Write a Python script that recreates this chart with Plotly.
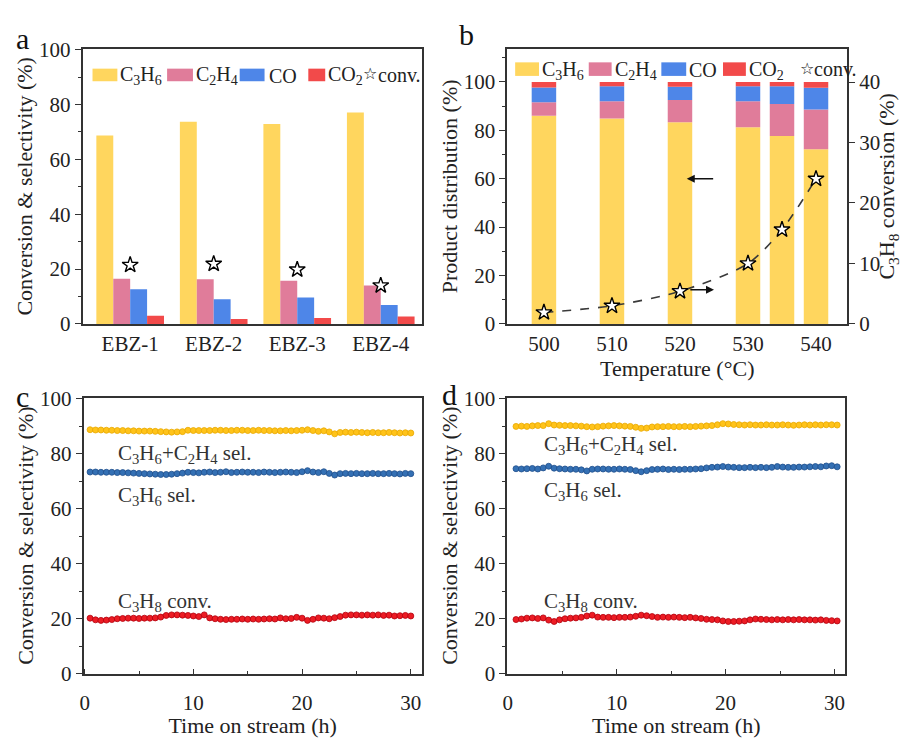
import plotly.graph_objects as go

# ---------------- data ----------------
catalysts = ["EBZ-1", "EBZ-2", "EBZ-3", "EBZ-4"]
a_c3h6 = [68.7, 73.7, 72.9, 77.1]
a_c2h4 = [16.5, 16.3, 15.7, 14.0]
a_co = [12.6, 9.0, 9.6, 6.9]
a_co2 = [3.0, 1.8, 2.2, 2.7]
a_conv = [21.5, 21.9, 19.8, 14.0]

temps = [500, 510, 520, 530, 535, 540]
b_c3h6 = [86.0, 84.9, 83.3, 81.3, 77.7, 72.2]
b_c2h4 = [5.6, 7.1, 9.2, 10.7, 13.2, 16.4]
b_co = [6.1, 6.2, 5.5, 6.2, 7.3, 9.0]
b_co2 = [2.3, 1.8, 2.0, 1.8, 1.8, 2.4]
b_conv = [1.9, 3.0, 5.4, 10.0, 15.6, 24.0]

c_time = [0.5, 1.0, 1.5, 2.0, 2.5, 3.0, 3.5, 4.0, 4.5, 5.0, 5.5, 6.0,
          6.5, 7.0, 7.5, 8.0, 8.5, 9.0, 9.5, 10.0, 10.5, 11.0, 11.5, 12.0,
          12.5, 13.0, 13.5, 14.0, 14.5, 15.0, 15.5, 16.0, 16.5, 17.0, 17.5, 18.0,
          18.5, 19.0, 19.5, 20.0, 20.5, 21.0, 21.5, 22.0, 22.5, 23.0, 23.5, 24.0,
          24.5, 25.0, 25.5, 26.0, 26.5, 27.0, 27.5, 28.0, 28.5, 29.0, 29.5, 30.0]
c_olefin_sel = [88.8, 88.7, 88.7, 88.6, 88.6, 88.5, 88.5, 88.4, 88.4, 88.3, 88.3, 88.3,
                88.2, 88.1, 88.0, 87.9, 88.0, 88.1, 88.6, 88.5, 88.5, 88.5, 88.5, 88.6,
                88.6, 88.5, 88.5, 88.6, 88.6, 88.5, 88.5, 88.6, 88.5, 88.5, 88.4, 88.4,
                88.5, 88.4, 88.5, 88.6, 88.8, 88.5, 88.2, 88.4, 88.0, 87.3, 87.8, 87.9,
                87.8, 87.9, 87.8, 87.7, 87.8, 87.7, 87.7, 87.8, 87.7, 87.6, 87.7, 87.6]
c_c3h6_sel = [73.4, 73.4, 73.3, 73.3, 73.3, 73.2, 73.2, 73.1, 73.0, 72.9, 72.8, 72.7,
              72.6, 72.5, 72.5, 72.6, 72.8, 73.0, 73.3, 73.2, 73.1, 73.3, 73.4, 73.2,
              73.3, 73.5, 73.2, 73.3, 73.4, 73.3, 73.3, 73.2, 73.4, 73.3, 73.2, 73.3,
              73.4, 73.3, 73.2, 73.5, 73.9, 73.4, 73.2, 73.5, 72.9, 72.3, 72.8, 72.9,
              72.8, 72.9, 72.8, 72.8, 72.9, 72.8, 72.8, 72.9, 72.8, 72.7, 72.9, 72.8]
c_c3h8_conv = [20.2, 19.6, 19.4, 19.5, 19.7, 20.0, 20.1, 20.2, 20.2, 20.1, 20.2, 20.2,
               20.3, 20.6, 21.2, 21.4, 21.4, 21.3, 21.2, 21.0, 20.8, 21.4, 20.3, 20.0,
               19.8, 19.7, 19.8, 19.8, 19.9, 19.8, 19.9, 19.8, 19.9, 20.0, 19.9, 20.3,
               20.0, 20.1, 20.5, 20.2, 19.4, 19.8, 20.3, 20.2, 20.0, 20.4, 20.8, 21.3,
               21.4, 21.4, 21.3, 21.4, 21.3, 21.4, 21.2, 21.3, 21.0, 21.1, 21.2, 21.0]

d_time = [0.75, 1.25, 1.75, 2.25, 2.75, 3.25, 3.75, 4.25, 4.75, 5.25, 5.75, 6.25,
          6.75, 7.25, 7.75, 8.25, 8.75, 9.25, 9.75, 10.25, 10.75, 11.25, 11.75, 12.25,
          12.75, 13.25, 13.75, 14.25, 14.75, 15.25, 15.75, 16.25, 16.75, 17.25, 17.75, 18.25,
          18.75, 19.25, 19.75, 20.25, 20.75, 21.25, 21.75, 22.25, 22.75, 23.25, 23.75, 24.25,
          24.75, 25.25, 25.75, 26.25, 26.75, 27.25, 27.75, 28.25, 28.75, 29.25, 29.75, 30.25]
d_olefin_sel = [90.0, 90.1, 90.0, 90.2, 90.3, 90.3, 91.0, 90.5, 90.4, 90.3, 90.3, 90.2,
                90.1, 89.9, 89.8, 89.9, 90.1, 90.2, 90.3, 90.2, 90.1, 90.0, 89.7, 89.3,
                89.4, 89.8, 89.9, 89.9, 90.0, 89.9, 89.9, 90.0, 89.9, 90.0, 90.1, 90.2,
                90.3, 90.6, 91.0, 90.9, 90.7, 90.6, 90.5, 90.6, 90.5, 90.5, 90.6, 90.5,
                90.5, 90.6, 90.5, 90.4, 90.5, 90.6, 90.5, 90.6, 90.5, 90.6, 90.6, 90.5]
d_c3h6_sel = [74.6, 74.5, 74.6, 74.7, 74.5, 74.9, 75.5, 74.8, 74.6, 74.5, 74.4, 74.4,
              74.2, 73.8, 74.4, 74.5, 74.5, 74.4, 74.4, 74.5, 74.4, 74.3, 73.9, 73.5,
              73.9, 74.3, 74.4, 74.5, 74.3, 74.4, 74.3, 74.4, 74.4, 74.5, 74.6, 74.9,
              75.1, 75.2, 75.4, 75.2, 75.1, 75.0, 75.0, 75.1, 75.0, 75.1, 75.0, 75.1,
              75.4, 75.2, 75.1, 75.1, 75.2, 75.2, 75.3, 75.4, 75.3, 75.6, 75.7, 75.3]
d_c3h8_conv = [19.7, 19.9, 20.2, 20.3, 20.1, 20.3, 19.5, 19.0, 19.6, 20.0, 20.2, 20.3,
               20.5, 21.0, 21.3, 20.6, 20.5, 20.5, 20.4, 20.5, 20.5, 20.6, 20.9, 21.3,
               21.1, 20.8, 20.5, 20.6, 20.5, 20.6, 20.5, 20.4, 20.5, 20.3, 20.1, 19.8,
               19.7, 19.6, 19.2, 19.0, 19.0, 19.1, 19.2, 19.6, 19.9, 19.8, 19.7, 19.6,
               19.7, 19.6, 19.7, 19.6, 19.7, 19.6, 19.6, 19.5, 19.6, 19.4, 19.3, 19.2]

product_names = ["C<sub>3</sub>H<sub>6</sub>", "C<sub>2</sub>H<sub>4</sub>", "CO", "CO<sub>2</sub>"]

# ---------------- styles ----------------
FONT = "'Liberation Serif', 'Times New Roman', Times, serif"
W, H = 902, 738
BAR_COLORS = ["#FFD65E", "#E07C9A", "#4E86E8", "#F24A4A"]
TXT = "#222222"


def px(x, y):
    return x / W, 1 - y / H


fig = go.Figure()

# ---- panel a : grouped bars ----
for name, vals, col in zip(product_names, [a_c3h6, a_c2h4, a_co, a_co2], BAR_COLORS):
    fig.add_trace(go.Bar(x=catalysts, y=vals, name=name, marker=dict(color=col, line=dict(width=0)),
                         xaxis="x", yaxis="y", showlegend=False))
fig.add_trace(go.Scatter(x=catalysts, y=a_conv, mode="markers", name="conv.",
                         marker=dict(symbol="star", size=12, color="white", line=dict(color="black", width=1.4)),
                         xaxis="x", yaxis="y", showlegend=False))

# ---- panel b : stacked bars + conversion ----
base = [0.0] * len(temps)
for name, vals, col in zip(product_names, [b_c3h6, b_c2h4, b_co, b_co2], BAR_COLORS):
    fig.add_trace(go.Bar(x=temps, y=vals, base=list(base), name=name, width=3.6, offset=-1.8,
                         marker=dict(color=col, line=dict(width=0)),
                         xaxis="x2", yaxis="y2", showlegend=False))
    base = [b + v for b, v in zip(base, vals)]
fig.add_trace(go.Scatter(x=temps, y=b_conv, mode="lines+markers", name="conv.",
                         line=dict(color="#3a3a3a", width=1.6, dash="dash", shape="spline", smoothing=0.8),
                         marker=dict(symbol="star", size=12, color="white", line=dict(color="black", width=1.4)),
                         xaxis="x2", yaxis="y3", showlegend=False))

# ---- panels c, d : stability ----
series_styles = [("#FFC31A", "#E8A800"), ("#3470B4", "#1E4E8C"), ("#EC1C24", "#B3000C")]
for t, ys, xa, ya in [(c_time, [c_olefin_sel, c_c3h6_sel, c_c3h8_conv], "x3", "y4"),
                      (d_time, [d_olefin_sel, d_c3h6_sel, d_c3h8_conv], "x4", "y5")]:
    for yv, (fc, lc), nm in zip(ys, series_styles, ["C3H6+C2H4 sel.", "C3H6 sel.", "C3H8 conv."]):
        fig.add_trace(go.Scatter(x=t, y=yv, mode="lines+markers", name=nm,
                                 line=dict(color=fc, width=1.2),
                                 marker=dict(symbol="circle", size=6, color=fc, line=dict(color=lc, width=0.8)),
                                 xaxis=xa, yaxis=ya, showlegend=False))


def ax(**kw):
    d = dict(showline=True, linecolor="#333333", linewidth=1.5, mirror=True, showgrid=False, zeroline=False,
             tickfont=dict(size=21, family=FONT, color=TXT),
             title_font=dict(size=22, family=FONT, color=TXT),
             ticks="outside", ticklen=6, tickwidth=1.3, tickcolor="#333333")
    d.update(kw)
    return d


yaxis_title = "Conversion &amp; selectivity (%)"
minor_y = dict(dtick=10, ticks="outside", ticklen=3, tickcolor="#333333")

layout = dict(
    width=W, height=H, margin=dict(l=0, r=0, t=0, b=0),
    paper_bgcolor="white", plot_bgcolor="white",
    font=dict(family=FONT, color=TXT),
    barmode="group", bargap=0.19, bargroupgap=0,
    xaxis=ax(domain=[78 / W, 419 / W], anchor="y", range=[-0.57, 3.49], ticks="", type="category"),
    yaxis=ax(domain=[1 - 323 / H, 1 - 39 / H], anchor="x", range=[0, 100.3], dtick=20, minor=minor_y,
             title=dict(text=yaxis_title, standoff=0)),
    xaxis2=ax(domain=[505 / W, 847 / W], anchor="y2", range=[494.6, 544.6], tickvals=[500, 510, 520, 530, 540],
              ticks="", title=dict(text="Temperature (°C)", standoff=0)),
    yaxis2=ax(domain=[1 - 323 / H, 1 - 39 / H], anchor="x2", range=[0, 113.7], dtick=20, minor=minor_y,
              title=dict(text="Product distribution (%)", standoff=0)),
    yaxis3=ax(overlaying="y2", side="right", anchor="x2", range=[0, 45.5], dtick=10, mirror=False,
              title=dict(text="C<sub>3</sub>H<sub>8</sub> conversion (%)", standoff=4)),
    xaxis3=ax(domain=[79 / W, 419 / W], anchor="y4", range=[-0.1, 31], dtick=10, ticks="inside", ticklen=5,
              ticklabelstandoff=9,
              minor=dict(dtick=5, ticks="inside", ticklen=3, tickcolor="#333333"),
              title=dict(text="Time on stream (h)", standoff=0)),
    yaxis4=ax(domain=[1 - 684 / H, 1 - 399 / H], anchor="x3", range=[0, 100.5], dtick=20, minor=minor_y,
              title=dict(text=yaxis_title, standoff=0)),
    xaxis4=ax(domain=[505 / W, 845 / W], anchor="y5", range=[-0.06, 31], dtick=10, ticks="inside", ticklen=5,
              ticklabelstandoff=9,
              minor=dict(dtick=5, ticks="inside", ticklen=3, tickcolor="#333333"),
              title=dict(text="Time on stream (h)", standoff=0)),
    yaxis5=ax(domain=[1 - 684 / H, 1 - 399 / H], anchor="x4", range=[0, 100.5], dtick=20, minor=minor_y,
              title=dict(text=yaxis_title, standoff=0)),
)
fig.update_layout(**layout)

shapes = []
annotations = []

# panel letters
for letter, (lx, ly) in zip("abcd", [(18, 28), (464, 24), (18, 398), (447, 396)]):
    x, y = px(lx, ly)
    annotations.append(dict(text=letter, x=x, y=y, xref="paper", yref="paper", showarrow=False,
                            font=dict(size=30, family=FONT, color="#111111"), xanchor="center", yanchor="middle"))

# manual legends (patches + labels)
legend_specs = [
    dict(yc=66, h=13, rects=[(88, 113), (163, 189), (236, 261), (305, 322)],
         texts=[114, 190, 263, 323], star=367, conv=373),
    dict(yc=60, h=14, rects=[(513, 537), (587, 610), (660, 685), (722, 745)],
         texts=[538, 611, 686, 746], star=806, conv=812),
]
for spec in legend_specs:
    for (x0, x1), tx, col, name in zip(spec["rects"], spec["texts"], BAR_COLORS, product_names):
        X0, Y0 = px(x0, spec["yc"] + spec["h"] / 2)
        X1, Y1 = px(x1, spec["yc"] - spec["h"] / 2)
        shapes.append(dict(type="rect", xref="paper", yref="paper", x0=X0, x1=X1, y0=Y0, y1=Y1,
                           fillcolor=col, line=dict(width=0)))
        X, Y = px(tx, spec["yc"] + 1)
        annotations.append(dict(text=name, x=X, y=Y, xref="paper", yref="paper", showarrow=False,
                                xanchor="left", yanchor="middle", font=dict(size=20, family=FONT, color=TXT)))
    X, Y = px(spec["star"], spec["yc"] - 1)
    annotations.append(dict(text="☆", x=X, y=Y, xref="paper", yref="paper", showarrow=False,
                            xanchor="center", yanchor="middle", font=dict(size=16, family="DejaVu Sans", color="#111111")))
    X, Y = px(spec["conv"], spec["yc"])
    annotations.append(dict(text="conv.", x=X, y=Y, xref="paper", yref="paper", showarrow=False,
                            xanchor="left", yanchor="middle", font=dict(size=20, family=FONT, color=TXT)))

# arrows in panel b
annotations.append(dict(x=521.0, y=60, ax=525.1, ay=60, xref="x2", yref="y2", axref="x2", ayref="y2",
                        text="", showarrow=True, arrowhead=2, arrowsize=1, arrowwidth=1.6, arrowcolor="#111111"))
annotations.append(dict(x=525.0, y=14.1, ax=521.3, ay=14.1, xref="x2", yref="y2", axref="x2", ayref="y2",
                        text="", showarrow=True, arrowhead=2, arrowsize=1, arrowwidth=1.6, arrowcolor="#111111"))

# series labels in c and d
for xa, ya, x0, ys in [("x3", "y4", 2.9, [80.0, 64.8, 26.0]), ("x4", "y5", 3.1, [83.1, 66.5, 26.0])]:
    for txt, yy in zip(["C<sub>3</sub>H<sub>6</sub>+C<sub>2</sub>H<sub>4</sub> sel.",
                        "C<sub>3</sub>H<sub>6</sub> sel.", "C<sub>3</sub>H<sub>8</sub> conv."], ys):
        annotations.append(dict(text=txt, x=x0, y=yy, xref=xa, yref=ya, showarrow=False,
                                xanchor="left", yanchor="middle", font=dict(size=21, family=FONT, color="#333333")))

fig.update_layout(shapes=shapes, annotations=annotations)
fig.write_html("out.html")
